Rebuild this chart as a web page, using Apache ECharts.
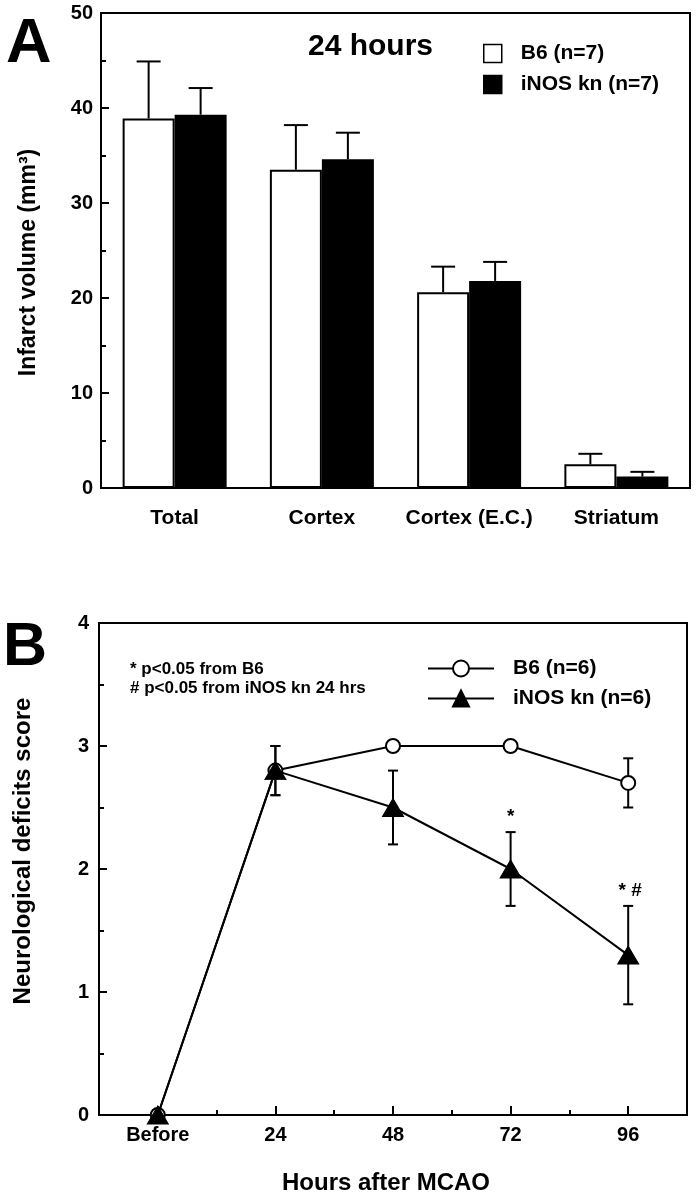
<!DOCTYPE html>
<html>
<head>
<meta charset="utf-8">
<script src="https://cdn.jsdelivr.net/npm/echarts@6/dist/echarts.min.js"></script>
<style>
html, body { margin: 0; padding: 0; background: #fff; }
#main { width: 699px; height: 1199px; }
</style>
</head>
<body>
<div id="main"></div>
<script>
// panel A: infarct volume at 24 hours
var regions = ['Total', 'Cortex', 'Cortex (E.C.)', 'Striatum'];
var volB6 = [38.9, 33.5, 20.6, 2.5];
var volB6Err = [6.0, 4.7, 2.7, 1.1];
var volKn = [39.3, 34.6, 21.8, 1.2];
var volKnErr = [2.8, 2.8, 2.0, 0.5];
var volTicks = [0, 10, 20, 30, 40, 50];

// panel B: neurological score
var hours = [0, 24, 48, 72, 96];
var hourLabels = ['Before', '24', '48', '72', '96'];
var scoreB6 = [0, 2.8, 3.0, 3.0, 2.7];
var scoreB6Err = [0, 0.2, 0, 0, 0.2];
var scoreKn = [0, 2.8, 2.5, 2.0, 1.3];
var scoreKnErr = [0, 0.2, 0.3, 0.3, 0.4];
var scoreSig = ['', '', '', '*', '* #'];

var FONT = '"Liberation Sans", Arial, Helvetica, sans-serif';
var BAR_W = 52;

var myChart = echarts.init(document.getElementById('main'));

// upward error bar on a grouped bar
function barErr(offset) {
    return function (params, api) {
        var i = api.value(0), v = api.value(1), e = api.value(2);
        var p0 = api.coord([i, v]);
        var p1 = api.coord([i, v + e]);
        var x = p0[0] + offset;
        var st = { stroke: '#000', lineWidth: 2 };
        return {
            type: 'group',
            children: [
                { type: 'line', shape: { x1: x, y1: p0[1], x2: x, y2: p1[1] }, style: st },
                { type: 'line', shape: { x1: x - 12, y1: p1[1], x2: x + 12, y2: p1[1] }, style: st }
            ]
        };
    };
}

// +/- error bar on a point, with optional significance mark
function lineErr(sigs) {
    return function (params, api) {
        var h = api.value(0), v = api.value(1), e = api.value(2);
        var sig = sigs ? sigs[params.dataIndex] : '';
        var children = [];
        var st = { stroke: '#000', lineWidth: 2 };
        var top = api.coord([h, v + e]);
        if (e > 0) {
            var bot = api.coord([h, v - e]);
            children.push({ type: 'line', shape: { x1: top[0], y1: top[1], x2: bot[0], y2: bot[1] }, style: st });
            children.push({ type: 'line', shape: { x1: top[0] - 5, y1: top[1], x2: top[0] + 5, y2: top[1] }, style: st });
            children.push({ type: 'line', shape: { x1: bot[0] - 5, y1: bot[1], x2: bot[0] + 5, y2: bot[1] }, style: st });
        }
        if (sig) {
            children.push({
                type: 'text',
                style: {
                    text: sig, x: top[0] + (sig.length > 1 ? 2 : 0), y: top[1] - 15,
                    align: 'center', verticalAlign: 'middle',
                    font: 'bold 19px ' + FONT, fill: '#000'
                }
            });
        }
        return { type: 'group', children: children };
    };
}

var axisTxt = { color: '#000', fontFamily: FONT, fontWeight: 'bold', fontSize: 20 };
var blackLine = { color: '#000', width: 2 };

var option = {
    animation: false,
    backgroundColor: '#fff',
    title: [
        { text: 'A', left: 6, top: 13, padding: 0,
          textStyle: { fontFamily: FONT, fontWeight: 'bold', fontSize: 63, color: '#000' } },
        { text: '24 hours', left: 308, top: 32, padding: 0,
          textStyle: { fontFamily: FONT, fontWeight: 'bold', fontSize: 30, color: '#000' } },
        { text: 'B', left: 3, top: 618, padding: 0,
          textStyle: { fontFamily: FONT, fontWeight: 'bold', fontSize: 61, color: '#000' } }
    ],
    graphic: [
        { type: 'text', left: 130, top: 661,
          style: { text: '* p<0.05 from B6', font: 'bold 17px ' + FONT, fill: '#000' } },
        { type: 'text', left: 130, top: 680,
          style: { text: '# p<0.05 from iNOS kn 24 hrs', font: 'bold 17px ' + FONT, fill: '#000' } }
    ],
    legend: [
        {
            left: 483, top: 43, orient: 'vertical', padding: 0,
            itemWidth: 18, itemHeight: 18, itemGap: 10, icon: 'rect',
            textStyle: { fontFamily: FONT, fontWeight: 'bold', fontSize: 21, color: '#000', padding: [0, 0, 0, 14] },
            data: [
                { name: 'B6 (n=7)', itemStyle: { color: '#fff', borderColor: '#000', borderWidth: 1.5 } },
                { name: 'iNOS kn (n=7)', itemStyle: { color: '#000', borderColor: '#000', borderWidth: 1.5 } }
            ]
        },
        {
            left: 427, top: 658, orient: 'vertical', padding: 0,
            itemWidth: 66, itemHeight: 20, itemGap: 9,
            textStyle: { fontFamily: FONT, fontWeight: 'bold', fontSize: 21, color: '#000', padding: [0, 0, 0, 14] },
            data: ['B6 (n=6)', 'iNOS kn (n=6)']
        }
    ],
    grid: [
        { left: 101, right: 9, top: 13, bottom: 711, show: true, borderColor: '#000', borderWidth: 2 },
        { left: 99, right: 12, top: 623, bottom: 84, show: true, borderColor: '#000', borderWidth: 2 }
    ],
    xAxis: [
        {
            gridIndex: 0, type: 'category', data: regions, position: 'bottom',
            axisLine: { lineStyle: blackLine },
            axisTick: { show: false },
            axisLabel: Object.assign({ margin: 20, interval: 0, fontSize: 21 }, { color: '#000', fontFamily: FONT, fontWeight: 'bold' })
        },
        {
            gridIndex: 1, type: 'value', min: -12, max: 108, position: 'bottom',
            name: 'Hours after MCAO', nameLocation: 'middle', nameGap: 56,
            nameTextStyle: { fontFamily: FONT, fontWeight: 'bold', fontSize: 24, color: '#000', padding: [0, 14, 0, 0] },
            axisLine: { onZero: false, lineStyle: blackLine },
            axisTick: { inside: true, length: 9, customValues: hours, lineStyle: blackLine },
            axisLabel: Object.assign({
                margin: 10, customValues: hours,
                formatter: function (v) { var k = hours.indexOf(v); return k >= 0 ? hourLabels[k] : ''; }
            }, axisTxt),
            splitLine: { show: false }
        },
        {
            gridIndex: 1, type: 'value', min: -12, max: 108, position: 'bottom',
            axisLine: { show: false, onZero: false },
            axisTick: { inside: true, length: 5, customValues: [12, 36, 60, 84], lineStyle: blackLine },
            axisLabel: { show: false },
            splitLine: { show: false }
        }
    ],
    yAxis: [
        {
            gridIndex: 0, type: 'value', min: volTicks[0], max: volTicks[volTicks.length - 1], interval: 10,
            name: 'Infarct volume (mm³)', nameLocation: 'middle', nameGap: 61,
            nameTextStyle: { fontFamily: FONT, fontWeight: 'bold', fontSize: 23, color: '#000', padding: [0, 24, 0, 0] },
            axisLine: { show: true, onZero: false, lineStyle: blackLine },
            axisTick: { show: true, inside: true, length: 8, lineStyle: blackLine },
            minorTick: { show: true, splitNumber: 2, length: 5, lineStyle: blackLine },
            axisLabel: Object.assign({ margin: 8 }, axisTxt),
            splitLine: { show: false }
        },
        {
            gridIndex: 1, type: 'value', min: 0, max: 4, interval: 1,
            name: 'Neurological deficits score', nameLocation: 'middle', nameGap: 64,
            nameTextStyle: { fontFamily: FONT, fontWeight: 'bold', fontSize: 24, color: '#000', padding: [0, 0, 0, 36] },
            axisLine: { show: true, onZero: false, lineStyle: blackLine },
            axisTick: { show: true, inside: true, length: 8, lineStyle: blackLine },
            minorTick: { show: true, splitNumber: 2, length: 5, lineStyle: blackLine },
            axisLabel: Object.assign({ margin: 10 }, axisTxt),
            splitLine: { show: false }
        }
    ],
    series: [
        {
            name: 'B6 (n=7)', type: 'bar', xAxisIndex: 0, yAxisIndex: 0,
            data: volB6, barWidth: BAR_W, barGap: '0%',
            itemStyle: { color: '#fff', borderColor: '#000', borderWidth: 2 }
        },
        {
            name: 'iNOS kn (n=7)', type: 'bar', xAxisIndex: 0, yAxisIndex: 0,
            data: volKn, barWidth: BAR_W, barGap: '0%',
            itemStyle: { color: '#000', borderColor: '#000', borderWidth: 2 }
        },
        {
            type: 'custom', xAxisIndex: 0, yAxisIndex: 0, z: 5,
            renderItem: barErr(-BAR_W / 2),
            data: regions.map(function (c, i) { return [i, volB6[i], volB6Err[i]]; })
        },
        {
            type: 'custom', xAxisIndex: 0, yAxisIndex: 0, z: 5,
            renderItem: barErr(BAR_W / 2),
            data: regions.map(function (c, i) { return [i, volKn[i], volKnErr[i]]; })
        },
        {
            type: 'custom', xAxisIndex: 1, yAxisIndex: 1, z: 1,
            renderItem: lineErr(scoreSig),
            data: hours.map(function (h, i) { return [h, scoreKn[i], scoreKnErr[i]]; })
        },
        {
            type: 'custom', xAxisIndex: 1, yAxisIndex: 1, z: 1,
            renderItem: lineErr(null),
            data: hours.map(function (h, i) { return [h, scoreB6[i], scoreB6Err[i]]; })
        },
        {
            name: 'B6 (n=6)', type: 'line', xAxisIndex: 1, yAxisIndex: 1, z: 3,
            data: hours.map(function (h, i) { return [h, scoreB6[i]]; }),
            symbol: 'circle', symbolSize: 14, clip: false,
            lineStyle: { color: '#000', width: 2 },
            itemStyle: { color: '#fff', borderColor: '#000', borderWidth: 2 }
        },
        {
            name: 'iNOS kn (n=6)', type: 'line', xAxisIndex: 1, yAxisIndex: 1, z: 4,
            data: hours.map(function (h, i) { return [h, scoreKn[i]]; }),
            symbol: 'triangle', symbolSize: [21, 18], clip: false,
            lineStyle: { color: '#000', width: 2 },
            itemStyle: { color: '#000', borderColor: '#000', borderWidth: 1 }
        }
    ]
};
myChart.setOption(option);
</script>
</body>
</html>
